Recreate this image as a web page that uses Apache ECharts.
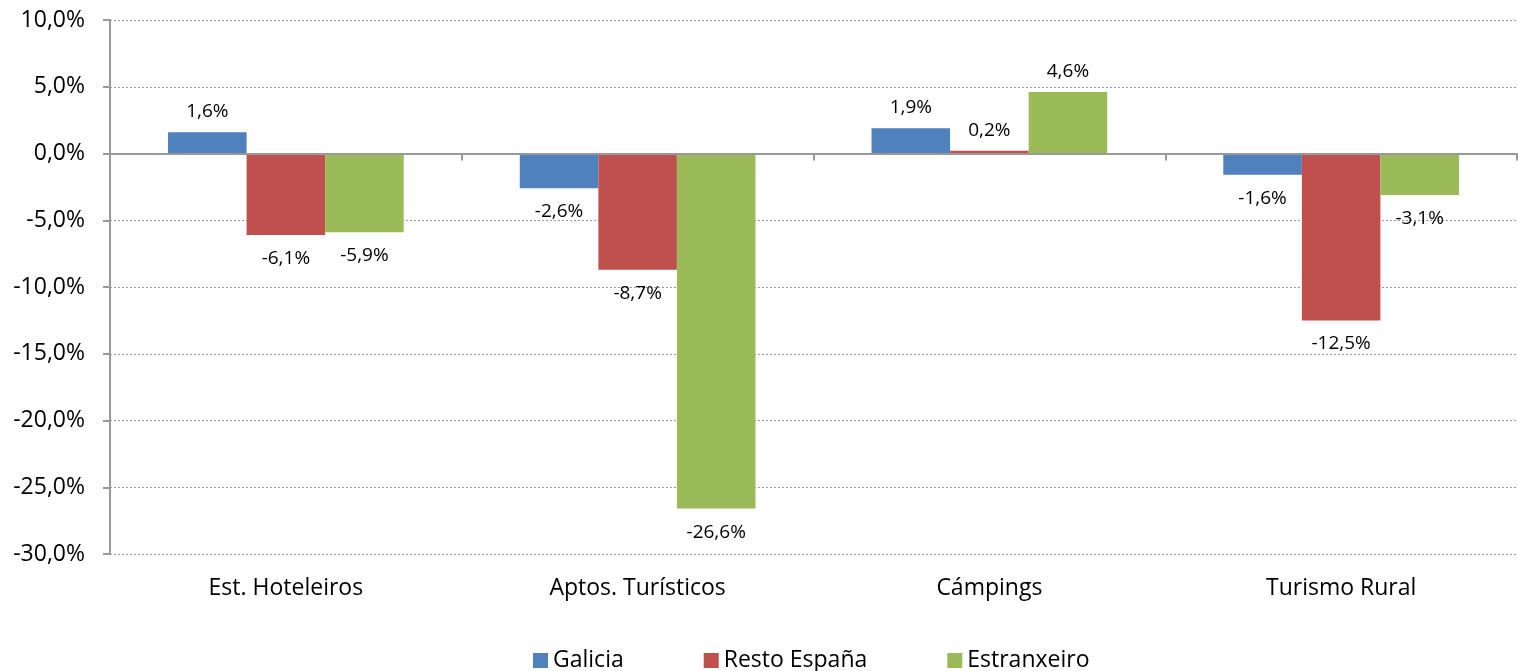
<!DOCTYPE html>
<html>
<head>
<meta charset="utf-8">
<script src="https://cdn.jsdelivr.net/npm/echarts@6/dist/echarts.min.js"></script>
<style>
  html, body { margin: 0; padding: 0; background: #fff; }
  #chart { width: 1518px; height: 671px; }
</style>
</head>
<body>
<div id="chart"></div>
<script>
var categories = ['Est. Hoteleiros', 'Aptos. Turísticos', 'Cámpings', 'Turismo Rural']
var seriesNames = ['Galicia', 'Resto España', 'Estranxeiro']
var galicia = [1.6, -2.6, 1.9, -1.6]
var resto = [-6.1, -8.7, 0.2, -12.5]
var estranxeiro = [-5.9, -26.6, 4.6, -3.1]
var colors = ['#4F81BD', '#C0504D', '#9BBB59']

var font = '"Open Sans", sans-serif'

function pct (v) {
  return v.toFixed(1).replace('.', ',') + '%'
}

// each bar gets its label outside the end, above or below depending on sign
function toData (arr) {
  return arr.map(function (v) {
    return {
      value: v,
      label: {
        position: v >= 0 ? 'top' : 'bottom',
        distance: v >= 0 ? 11 : 14
      }
    }
  })
}

function makeSeries (name, arr, i) {
  return {
    name: name,
    type: 'bar',
    xAxisIndex: 0,
    barGap: 0,
    barCategoryGap: '33%',
    itemStyle: { color: colors[i] },
    label: {
      show: true,
      color: '#000',
      fontSize: 19,
      fontFamily: font,
      formatter: function (p) { return pct(p.value) }
    },
    data: toData(arr)
  }
}

var chart = echarts.init(document.getElementById('chart'))
chart.setOption({
  animation: false,
  grid: { left: 110, right: 1, top: 20, bottom: 117 },
  legend: {
    top: 644,
    left: 528,
    itemWidth: 15,
    itemHeight: 15,
    itemGap: 80,
    icon: 'rect',
    textStyle: { fontSize: 23, fontFamily: font, color: '#000' },
    data: seriesNames
  },
  xAxis: [
    {
      // zero line with ticks between categories
      type: 'category',
      data: categories,
      position: 'bottom',
      axisLine: { onZero: true, lineStyle: { color: '#999', width: 2 } },
      axisTick: { show: true, length: 7, lineStyle: { color: '#999', width: 2 } },
      axisLabel: { show: false },
      z: 5
    },
    {
      // category labels under the plot
      type: 'category',
      data: categories,
      position: 'bottom',
      axisLine: { show: false, onZero: false },
      axisTick: { show: false },
      axisLabel: { fontSize: 23, fontFamily: font, color: '#000', margin: 23 }
    }
  ],
  yAxis: {
    type: 'value',
    min: -30,
    max: 10,
    interval: 5,
    axisLine: { show: true, lineStyle: { color: '#999', width: 2 } },
    axisTick: { show: true, length: 7, lineStyle: { color: '#999', width: 2 } },
    axisLabel: {
      fontSize: 23,
      fontFamily: font,
      color: '#000',
      margin: 25,
      formatter: function (v) { return pct(v) }
    },
    splitLine: { lineStyle: { color: '#999', type: [2, 2], width: 1 } }
  },
  series: [
    makeSeries(seriesNames[0], galicia, 0),
    makeSeries(seriesNames[1], resto, 1),
    makeSeries(seriesNames[2], estranxeiro, 2)
  ]
})
</script>
</body>
</html>
